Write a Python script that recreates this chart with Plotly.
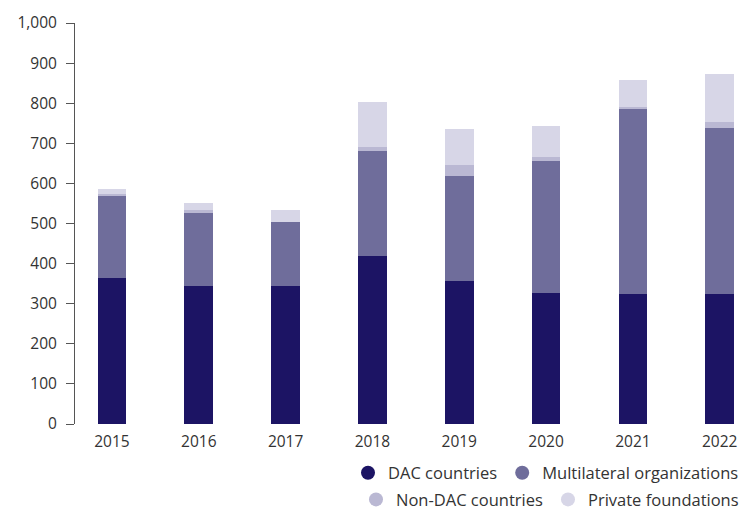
import plotly.graph_objects as go

# Values
years = ['2015', '2016', '2017', '2018', '2019', '2020', '2021', '2022']
dac = [364, 344, 344, 419, 357, 327, 324, 324]
multilateral = [207, 182, 160, 262, 261, 329, 464, 414]
non_dac = [2, 8, 0, 10, 28, 10, 2, 15]
private = [13, 17, 30, 112, 90, 77, 68, 120]

series = [
    ('DAC countries', dac, '#1c1464', 'legend'),
    ('Multilateral organizations', multilateral, '#6f6d9b', 'legend'),
    ('Non-DAC countries', non_dac, '#bab8d3', 'legend2'),
    ('Private foundations', private, '#d7d6e7', 'legend2'),
]

FONT = 'Open Sans'
TXT = '#333333'

fig = go.Figure()

for name, vals, color, leg in series:
    fig.add_trace(go.Bar(
        x=list(range(len(years))), y=vals, name=name,
        marker=dict(color=color, line=dict(width=0)),
        width=0.33, showlegend=False,
    ))

# circle markers for the legend
for name, vals, color, leg in series:
    fig.add_trace(go.Scatter(
        x=[None], y=[None], mode='markers', name=name,
        marker=dict(color=color, size=14, symbol='circle'),
        legend=leg,
    ))

fig.update_layout(
    width=744, height=513,
    barmode='stack',
    plot_bgcolor='white', paper_bgcolor='white',
    margin=dict(l=75, r=0, t=23, b=89),
    font=dict(family=FONT, size=15, color=TXT),
    xaxis=dict(
        tickmode='array', tickvals=list(range(len(years))), ticktext=years,
        range=[-0.426, 7.28], showline=False, showgrid=False, zeroline=False,
        ticks='', tickfont=dict(size=15.5, color=TXT), ticklabelstandoff=6,
    ),
    yaxis=dict(
        range=[0, 1000], tickvals=list(range(0, 1001, 100)),
        tickformat=',', showline=True, linecolor='#555555', linewidth=1,
        ticks='outside', ticklen=8, tickcolor='#555555', tickwidth=1,
        showgrid=False, zeroline=False, ticklabelstandoff=6,
        tickfont=dict(size=15.5, color=TXT),
    ),
    legend=dict(
        orientation='h', x=1, xanchor='right', y=0.078, yanchor='middle',
        yref='container', font=dict(size=16.5, color=TXT), bgcolor='rgba(0,0,0,0)',
        traceorder='normal',
    ),
    legend2=dict(
        orientation='h', x=1, xanchor='right', y=0.026, yanchor='middle',
        yref='container', font=dict(size=16.5, color=TXT), bgcolor='rgba(0,0,0,0)',
        traceorder='normal',
    ),
)

fig.write_html('out.html', config={'displayModeBar': False},
               post_script="document.body.style.margin='0';")
